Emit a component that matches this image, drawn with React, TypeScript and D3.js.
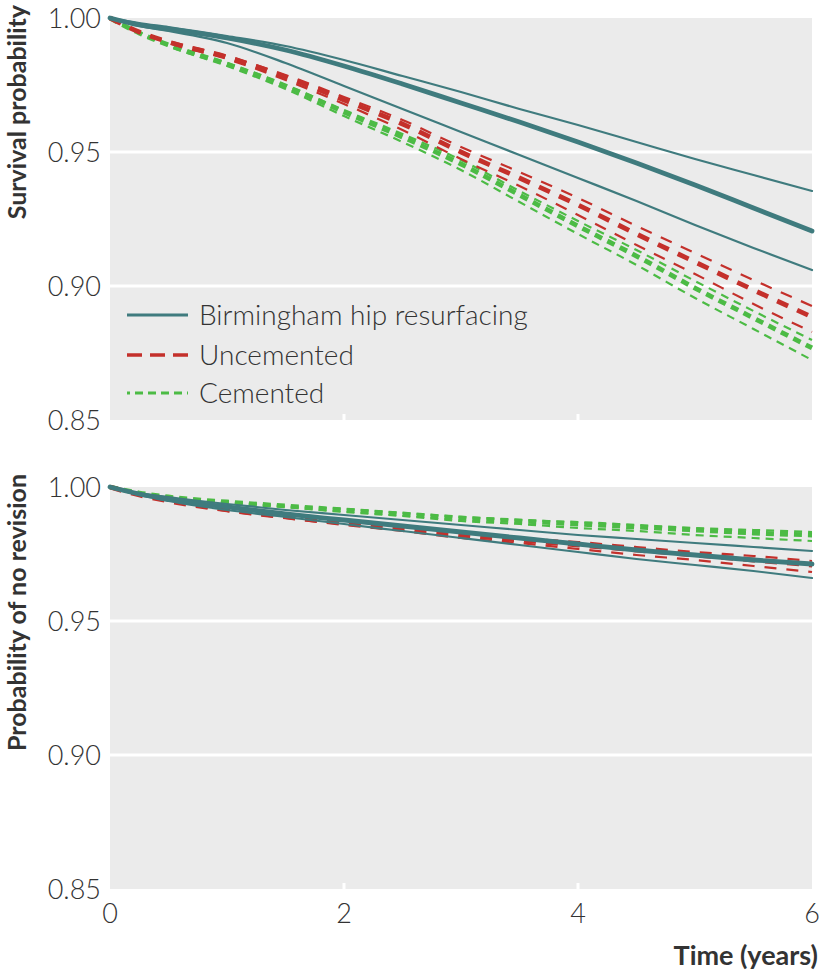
import React from "react";
import * as d3 from "d3";

const times = [0, 0.25, 0.5, 1, 1.5, 2, 2.5, 3, 3.5, 4, 4.5, 5, 5.5, 6];

// Top panel: survival probability
const survBhr = [1, 0.99739, 0.9959, 0.99254, 0.98806, 0.98209, 0.97537, 0.96828, 0.96119, 0.95373, 0.9459, 0.93769, 0.9291, 0.92052];
const survBhrHi = [1, 0.99813, 0.99664, 0.99328, 0.98955, 0.98433, 0.97836, 0.97239, 0.96604, 0.96007, 0.95373, 0.94739, 0.94142, 0.93545];
const survBhrLo = [1, 0.9970, 0.99515, 0.99067, 0.98321, 0.97463, 0.96604, 0.95746, 0.94888, 0.9403, 0.93172, 0.92276, 0.91418, 0.90597];
const survUnc = [1, 0.99478, 0.99104, 0.98545, 0.97799, 0.9694, 0.96045, 0.95, 0.9403, 0.93022, 0.9194, 0.90896, 0.89851, 0.88843];
const survUncHi = [1, 0.99478, 0.99142, 0.98582, 0.97873, 0.97052, 0.96194, 0.95187, 0.94254, 0.93284, 0.92239, 0.91231, 0.90224, 0.89254];
const survUncLo = [1, 0.99478, 0.99067, 0.9847, 0.97687, 0.96791, 0.95821, 0.94739, 0.93731, 0.92649, 0.9153, 0.90448, 0.89328, 0.88284];
const survCem = [1, 0.9944, 0.98993, 0.98284, 0.97463, 0.96493, 0.9556, 0.94552, 0.93396, 0.92239, 0.91119, 0.89925, 0.88806, 0.87687];
const survCemHi = [1, 0.9944, 0.98993, 0.98321, 0.975, 0.96567, 0.95672, 0.94701, 0.93545, 0.92425, 0.91343, 0.90187, 0.89067, 0.87985];
const survCemLo = [1, 0.9944, 0.98955, 0.98209, 0.97351, 0.96343, 0.95373, 0.94328, 0.93134, 0.9194, 0.90784, 0.89552, 0.88396, 0.87239];

// Bottom panel: probability of no revision
const revBhr = [1, 0.99739, 0.99552, 0.99254, 0.98993, 0.98769, 0.98545, 0.98321, 0.98097, 0.97873, 0.97649, 0.97463, 0.97276, 0.97127];
const revBhrHi = [1, 0.99776, 0.99627, 0.99366, 0.99142, 0.98955, 0.98769, 0.98582, 0.98396, 0.98209, 0.9806, 0.9791, 0.97761, 0.97612];
const revBhrLo = [1, 0.99701, 0.99478, 0.99142, 0.98881, 0.98619, 0.98358, 0.98097, 0.97836, 0.97575, 0.97313, 0.9709, 0.96866, 0.96604];
const revUnc = [1, 0.99701, 0.99478, 0.99142, 0.98881, 0.98657, 0.98433, 0.98209, 0.98022, 0.97836, 0.97649, 0.97463, 0.97276, 0.9709];
const revUncHi = [1, 0.99701, 0.99478, 0.99179, 0.98918, 0.98694, 0.98507, 0.98284, 0.98097, 0.97948, 0.97761, 0.97575, 0.97425, 0.97239];
const revUncLo = [1, 0.99701, 0.99478, 0.99104, 0.98843, 0.98582, 0.98358, 0.98097, 0.9791, 0.97687, 0.97463, 0.97276, 0.97052, 0.96828];
const revCem = [1, 0.99776, 0.99627, 0.9944, 0.99291, 0.99142, 0.98993, 0.98843, 0.98731, 0.98619, 0.98507, 0.98396, 0.98284, 0.98209];
const revCemHi = [1, 0.99776, 0.99627, 0.9944, 0.99291, 0.99179, 0.9903, 0.98881, 0.98769, 0.98694, 0.98582, 0.9847, 0.98396, 0.98321];
const revCemLo = [1, 0.99776, 0.99627, 0.9944, 0.99254, 0.99067, 0.98918, 0.98731, 0.98619, 0.9847, 0.98358, 0.98209, 0.98097, 0.97985];

const yTicks = [0.85, 0.9, 0.95, 1.0];
const xTicks = [0, 2, 4, 6];
const legendLabels = ["Birmingham hip resurfacing", "Uncemented", "Cemented"];

const TEAL = "#3f7b7e";
const RED = "#c4302b";
const GREEN = "#4cbb45";
const PANEL = "#ebebeb";
const TEXT = "#333333";
const FONT = "Lato, 'Open Sans', sans-serif";

const x = d3.scaleLinear().domain([0, 6]).range([110, 812]);

type Series = { values: number[]; color: string; width: number; dash?: string };

function Panel({ top, series, title, legend }: { top: number; series: Series[]; title: string; legend?: boolean }) {
  const y = d3.scaleLinear().domain([0.85, 1]).range([top + 402, top]);
  const line = d3
    .line<number>()
    .x((_, i) => x(times[i]))
    .y((d) => y(d))
    .curve(d3.curveMonotoneX);
  const [x0, x1] = x.range();
  return (
    <g>
      <rect x={x0} y={top} width={x1 - x0} height={402} fill={PANEL} />
      {yTicks
        .filter((t) => t > 0.85 && t < 1)
        .map((t) => (
          <line key={t} x1={x0} x2={x1} y1={y(t)} y2={y(t)} stroke="#fff" strokeWidth={3} />
        ))}
      {xTicks
        .filter((t) => t > 0 && t < 6)
        .map((t) => (
          <line key={t} x1={x(t)} x2={x(t)} y1={top + 402} y2={top + 396} stroke="#fff" strokeWidth={3} />
        ))}
      {yTicks.map((t) => (
        <text key={t} x={101} y={y(t)} dy="0.36em" textAnchor="end" fontSize={27} fontWeight={300} fill={TEXT} fontFamily={FONT}>
          {d3.format(".2f")(t)}
        </text>
      ))}
      <text
        transform={`translate(26,${top - 13}) rotate(-90)`}
        textAnchor="end"
        fontSize={25}
        fontWeight="bold"
        fill={TEXT}
        fontFamily={FONT}
      >
        {title}
      </text>
      {series.map((s, i) => (
        <path
          key={i}
          d={line(s.values) || ""}
          fill="none"
          stroke={s.color}
          strokeWidth={s.width}
          strokeDasharray={s.dash}
          strokeLinecap={s.dash ? "butt" : "round"}
        />
      ))}
      {legend && (
        <g>
          {[
            { c: TEAL, w: 3, dash: undefined as string | undefined },
            { c: RED, w: 3.5, dash: "15,8" },
            { c: GREEN, w: 3, dash: "3,5,8,5,8,5,8,5,8,5" },
          ].map((l, i) => {
            const ly = [315, 355, 393][i];
            return (
              <g key={i}>
                <line x1={127} x2={188} y1={ly} y2={ly} stroke={l.c} strokeWidth={l.w} strokeDasharray={l.dash} />
                <text x={199} y={ly} dy="0.36em" fontSize={28} fontWeight={300} fill={TEXT} fontFamily={FONT}>
                  {legendLabels[i]}
                </text>
              </g>
            );
          })}
        </g>
      )}
    </g>
  );
}

export default function App() {
  const redDash = "12,10";
  const greenDash = "8,6";
  const top: Series[] = [
    { values: survCemHi, color: GREEN, width: 2.2, dash: greenDash },
    { values: survCemLo, color: GREEN, width: 2.2, dash: greenDash },
    { values: survCem, color: GREEN, width: 4.8, dash: greenDash },
    { values: survUncHi, color: RED, width: 2.2, dash: redDash },
    { values: survUncLo, color: RED, width: 2.2, dash: redDash },
    { values: survUnc, color: RED, width: 4.8, dash: redDash },
    { values: survBhrHi, color: TEAL, width: 2.2 },
    { values: survBhrLo, color: TEAL, width: 2.2 },
    { values: survBhr, color: TEAL, width: 4.8 },
  ];
  const bottom: Series[] = [
    { values: revCemHi, color: GREEN, width: 2.2, dash: greenDash },
    { values: revCemLo, color: GREEN, width: 2.2, dash: greenDash },
    { values: revCem, color: GREEN, width: 4.8, dash: greenDash },
    { values: revUncHi, color: RED, width: 2.2, dash: redDash },
    { values: revUncLo, color: RED, width: 2.2, dash: redDash },
    { values: revUnc, color: RED, width: 4.8, dash: redDash },
    { values: revBhrHi, color: TEAL, width: 2.2 },
    { values: revBhrLo, color: TEAL, width: 2.2 },
    { values: revBhr, color: TEAL, width: 4.8 },
  ];
  return (
    <svg
      width={824}
      height={976}
      style={{ position: "absolute", left: 0, top: 0, background: "#fff" }}
    >
      <Panel top={18} series={top} title="Survival probability" legend />
      <Panel top={487} series={bottom} title="Probability of no revision" />
      {xTicks.map((t) => (
        <text key={t} x={x(t)} y={913} dy="0.36em" textAnchor="middle" fontSize={27} fontWeight={300} fill={TEXT} fontFamily={FONT}>
          {t}
        </text>
      ))}
      <text x={818} y={955} dy="0.36em" textAnchor="end" fontSize={27} fontWeight="bold" fill={TEXT} fontFamily={FONT}>
        Time (years)
      </text>
    </svg>
  );
}
